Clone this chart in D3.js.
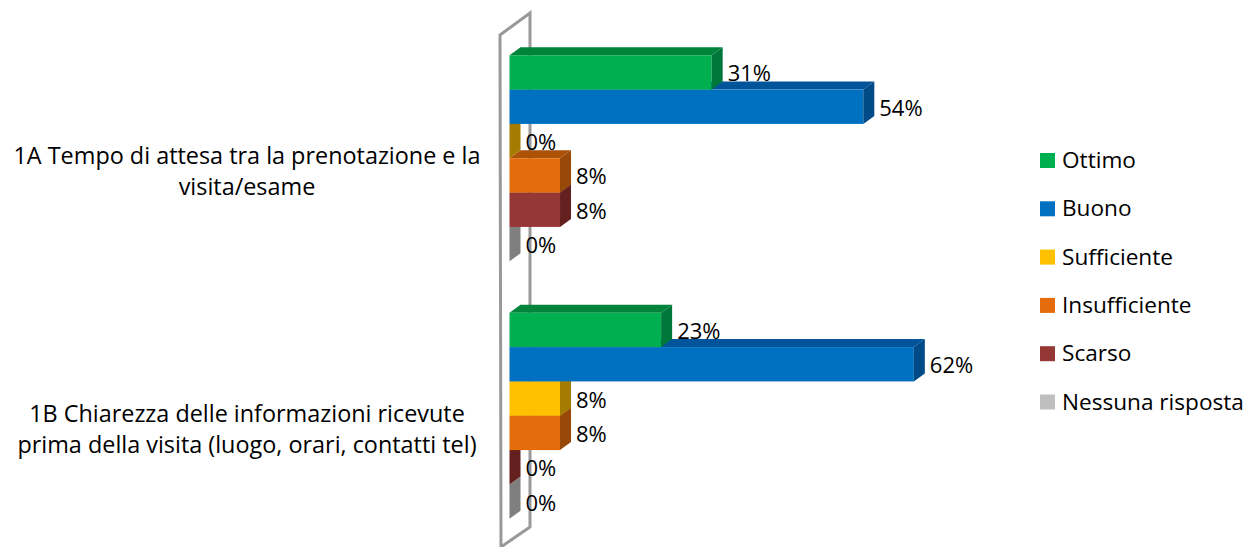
<!DOCTYPE html>
<html><head><meta charset="utf-8">
<script src="https://cdn.jsdelivr.net/npm/d3@7"></script>
<style>
html,body{margin:0;padding:0;background:#fff;}
svg{display:block;font-family:"Open Sans",sans-serif;}
</style></head>
<body><svg id="c" width="1247" height="547"></svg>
<script>
const categories = [
  ["1A Tempo di attesa tra la prenotazione e la", "visita/esame"],
  ["1B Chiarezza delle informazioni ricevute", "prima della visita (luogo, orari, contatti tel)"]
];
const categoryKeys = ["1A", "1B"];
const seriesNames = ["Ottimo", "Buono", "Sufficiente", "Insufficiente", "Scarso", "Nessuna risposta"];
const values1A = [30.77, 53.85, 0, 7.69, 7.69, 0];
const values1B = [23.08, 61.54, 7.69, 7.69, 0, 0];
const valueLabels1A = ["31%", "54%", "0%", "8%", "8%", "0%"];
const valueLabels1B = ["23%", "62%", "8%", "8%", "0%", "0%"];
const frontColors = ["#00B050", "#0070C0", "#FFC000", "#E46C0A", "#953735", "#BFBFBF"];
const topColors   = ["#00843C", "#00559A", "#BF9000", "#AB5108", "#702928", "#8F8F8F"];
const sideColors  = ["#00773A", "#004A87", "#A67C00", "#984807", "#63201F", "#7F7F7F"];

const values = [values1A, values1B];
const labels = [valueLabels1A, valueLabels1B];

const svg = d3.select("#c");
const DX = 11, DY = -8;

const y0 = d3.scaleBand().domain(categoryKeys).range([29.5, 544.5]).paddingInner(0.2).paddingOuter(0.1);
const y1 = d3.scaleBand().domain(seriesNames).range([0, y0.bandwidth()]);
const x = d3.scaleLinear().domain([0, 70]).range([509.5, 969.4]);

// side wall
svg.append("path")
  .attr("d", "M500,35 L530,13 L530,527 L501,547 Z")
  .attr("fill", "#fff").attr("stroke", "#999").attr("stroke-width", 3).attr("stroke-linejoin", "miter");

const g = svg.append("g");
categoryKeys.forEach((ck, ci) => {
  const base = y0(ck);
  for (let si = seriesNames.length - 1; si >= 0; si--) {
    const v = values[ci][si];
    const yt = base + y1(seriesNames[si]);
    const h = y1.bandwidth();
    const xl = x(0), xr = x(v);
    if (xr > xl) {
      g.append("path").attr("d", `M${xl},${yt} L${xl+DX},${yt+DY} L${xr+DX},${yt+DY} L${xr},${yt} Z`)
        .attr("fill", topColors[si]);
      g.append("rect").attr("x", xl).attr("y", yt).attr("width", xr - xl).attr("height", h)
        .attr("fill", frontColors[si]);
    }
    g.append("path").attr("d", `M${xr},${yt} L${xr+DX},${yt+DY} L${xr+DX},${yt+h+DY} L${xr},${yt+h} Z`)
      .attr("fill", sideColors[si]);
  }
  seriesNames.forEach((s, si) => {
    const v = values[ci][si];
    const yc = base + y1(s) + y1.bandwidth() / 2;
    svg.append("text").attr("x", x(v) + DX + 5).attr("y", yc + 9)
      .attr("font-size", 22).attr("fill", "#000").text(labels[ci][si]);
  });
  const cy = base + y0.bandwidth() / 2;
  const t = svg.append("text").attr("text-anchor", "middle").attr("font-size", 23.4).attr("fill", "#000");
  categories[ci].forEach((line, li) => {
    t.append("tspan").attr("x", 247).attr("y", cy + 6 + li * 31).text(line);
  });
});

const legendY = d3.scalePoint().domain(seriesNames).range([160.5, 402]);
const lg = svg.append("g");
seriesNames.forEach((s, si) => {
  const yy = legendY(s);
  lg.append("rect").attr("x", 1040).attr("y", yy - 7.5).attr("width", 15).attr("height", 15).attr("fill", frontColors[si]);
  lg.append("text").attr("x", 1062).attr("y", yy + 7.5).attr("font-size", 22.6).attr("fill", "#000").text(s);
});
</script></body></html>
